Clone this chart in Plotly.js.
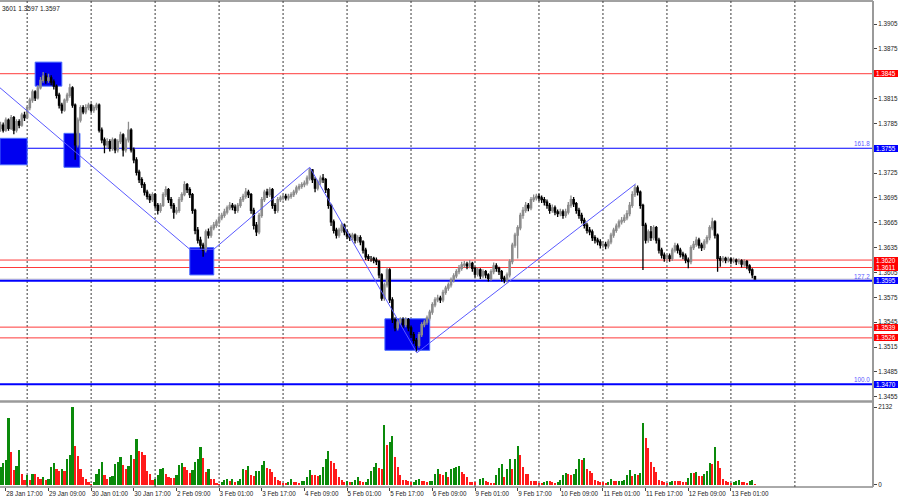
<!DOCTYPE html>
<html><head><meta charset="utf-8">
<script src="https://cdn.plot.ly/plotly-3.0.1.min.js"></script>
<style>html,body{margin:0;padding:0;background:#fff}#chart{width:900px;height:500px}</style>
</head><body><div id="chart"></div>
<script>
// Prices stored as 1.3xxx -> 4-digit pips (3783 = 1.3783)
const opens = [
3779,3783,3777,3789,3779,3792,3777,3787,3783,3795,
3792,3804,3813,3823,3816,3828,3837,3842,3837,3840,
3835,3830,3819,3807,3801,3813,3819,3828,3807,3759,
3789,3804,3799,3804,3807,3801,3804,3807,3777,3765,
3759,3763,3755,3765,3753,3763,3771,3753,3765,3777,
3753,3741,3726,3717,3711,3702,3697,3693,3699,3686,
3680,3686,3699,3705,3693,3686,3678,3680,3693,3699,
3711,3705,3699,3680,3656,3644,3638,3632,3654,3650,
3659,3662,3666,3671,3674,3678,3683,3686,3684,3680,
3686,3693,3697,3702,3699,3680,3662,3654,3674,3693,
3702,3699,3705,3686,3680,3693,3695,3697,3695,3697,
3699,3702,3707,3709,3711,3713,3719,3729,3717,3707,
3714,3719,3717,3705,3686,3666,3656,3650,3656,3662,
3654,3649,3647,3650,3644,3647,3642,3632,3624,3622,
3622,3620,3618,3602,3574,3590,3608,3572,3548,3538,
3545,3548,3542,3548,3538,3530,3523,3517,3530,3542,
3545,3550,3557,3566,3572,3574,3572,3581,3586,3590,
3596,3601,3606,3610,3614,3615,3613,3616,3610,3603,
3608,3601,3606,3602,3598,3606,3613,3610,3606,3598,
3596,3602,3618,3638,3650,3659,3674,3680,3686,3683,
3693,3695,3697,3695,3693,3690,3686,3680,3683,3678,
3676,3678,3674,3678,3686,3693,3688,3680,3674,3668,
3662,3656,3654,3647,3644,3642,3638,3639,3637,3642,
3650,3656,3661,3666,3668,3671,3676,3686,3699,3707,
3702,3686,3662,3644,3654,3647,3659,3644,3632,3626,
3622,3625,3622,3632,3637,3632,3627,3625,3620,3618,
3635,3639,3644,3638,3635,3642,3647,3659,3666,3650,
3622,3620,3622,3620,3621,3619,3620,3618,3619,3615,
3618,3613,3608,3600];
const closes = [
3783,3777,3789,3779,3792,3777,3787,3783,3795,3792,
3804,3813,3823,3816,3828,3837,3842,3837,3840,3835,
3830,3819,3807,3801,3813,3819,3828,3807,3759,3789,
3804,3799,3804,3807,3801,3804,3807,3777,3765,3759,
3763,3755,3765,3753,3763,3771,3753,3765,3777,3753,
3741,3726,3717,3711,3702,3697,3693,3699,3686,3680,
3686,3699,3705,3693,3686,3678,3680,3693,3699,3711,
3705,3699,3680,3656,3644,3638,3632,3654,3650,3659,
3662,3666,3671,3674,3678,3683,3686,3684,3680,3686,
3693,3697,3702,3699,3680,3662,3654,3674,3693,3702,
3699,3705,3686,3680,3693,3695,3697,3695,3697,3699,
3702,3707,3709,3711,3713,3719,3729,3717,3707,3714,
3719,3717,3705,3686,3666,3656,3650,3656,3662,3654,
3649,3647,3650,3644,3647,3642,3632,3624,3622,3622,
3620,3618,3602,3574,3590,3608,3572,3548,3538,3545,
3548,3542,3548,3538,3530,3523,3517,3530,3542,3545,
3550,3557,3566,3572,3574,3572,3581,3586,3590,3596,
3601,3606,3610,3614,3615,3613,3616,3610,3603,3608,
3601,3606,3602,3598,3606,3613,3610,3606,3598,3596,
3602,3618,3638,3650,3659,3674,3680,3686,3683,3693,
3695,3697,3695,3693,3690,3686,3680,3683,3678,3676,
3678,3674,3678,3686,3693,3688,3680,3674,3668,3662,
3656,3654,3647,3644,3642,3638,3639,3637,3642,3650,
3656,3661,3666,3668,3671,3676,3686,3699,3707,3702,
3686,3662,3644,3654,3647,3659,3644,3632,3626,3622,
3625,3622,3632,3637,3632,3627,3625,3620,3618,3635,
3639,3644,3638,3635,3642,3647,3659,3666,3650,3622,
3620,3622,3620,3621,3619,3620,3618,3619,3615,3618,
3613,3608,3602,3597];
const highs = [
3787,3786,3792,3791,3795,3794,3790,3790,3798,3799,
3806,3816,3826,3825,3831,3841,3847,3846,3845,3843,
3838,3832,3822,3810,3815,3822,3833,3830,3809,3792,
3807,3807,3808,3810,3809,3807,3810,3809,3780,3768,
3767,3766,3768,3767,3766,3775,3773,3768,3787,3779,
3756,3744,3729,3720,3714,3705,3700,3702,3701,3689,
3689,3702,3709,3707,3696,3689,3684,3696,3702,3715,
3713,3708,3701,3682,3660,3648,3641,3657,3658,3662,
3666,3669,3674,3677,3682,3686,3690,3689,3687,3689,
3696,3700,3707,3705,3701,3683,3666,3677,3696,3705,
3706,3708,3707,3689,3696,3698,3700,3700,3700,3702,
3705,3710,3712,3714,3716,3722,3731,3730,3720,3717,
3722,3724,3719,3707,3688,3669,3659,3659,3665,3664,
3657,3652,3653,3652,3650,3650,3644,3635,3627,3625,
3624,3623,3620,3604,3593,3611,3610,3575,3551,3548,
3551,3551,3551,3550,3541,3533,3526,3533,3545,3548,
3553,3560,3569,3575,3578,3577,3584,3589,3593,3599,
3604,3609,3614,3618,3619,3618,3620,3618,3612,3611,
3610,3609,3608,3604,3609,3617,3616,3612,3608,3601,
3605,3621,3641,3653,3662,3677,3684,3690,3689,3696,
3699,3700,3700,3698,3696,3693,3689,3687,3686,3681,
3682,3681,3682,3690,3698,3696,3690,3683,3677,3671,
3665,3660,3657,3650,3647,3645,3643,3642,3645,3653,
3659,3664,3669,3672,3675,3680,3690,3703,3711,3710,
3704,3688,3665,3657,3661,3662,3661,3647,3635,3629,
3628,3628,3635,3641,3640,3635,3630,3628,3623,3638,
3643,3648,3647,3641,3645,3650,3662,3671,3668,3652,
3625,3625,3624,3624,3623,3623,3622,3622,3621,3621,
3620,3615,3610,3601];
const lows = [
3775,3774,3775,3776,3777,3772,3774,3779,3781,3788,
3790,3801,3810,3812,3814,3826,3834,3833,3834,3831,
3826,3815,3803,3797,3799,3810,3816,3804,3741,3756,
3786,3796,3796,3801,3798,3798,3801,3774,3761,3749,
3755,3751,3752,3749,3750,3760,3745,3750,3762,3750,
3737,3722,3713,3707,3698,3693,3689,3690,3682,3675,
3677,3684,3696,3689,3682,3670,3675,3677,3690,3697,
3701,3695,3676,3651,3640,3633,3624,3629,3646,3647,
3656,3659,3663,3668,3671,3675,3680,3680,3676,3677,
3683,3690,3694,3695,3676,3657,3649,3651,3671,3690,
3695,3696,3682,3676,3677,3690,3692,3692,3692,3694,
3696,3699,3704,3706,3708,3710,3716,3713,3702,3704,
3711,3713,3701,3682,3661,3652,3646,3647,3653,3650,
3645,3643,3644,3640,3641,3638,3628,3620,3619,3618,
3616,3614,3598,3571,3571,3587,3568,3544,3534,3535,
3542,3538,3539,3534,3526,3519,3509,3514,3527,3539,
3542,3547,3554,3563,3569,3568,3569,3578,3583,3587,
3593,3598,3603,3607,3611,3609,3610,3606,3599,3600,
3597,3598,3598,3594,3595,3603,3606,3602,3594,3592,
3593,3599,3615,3635,3622,3656,3670,3677,3679,3680,
3690,3692,3691,3689,3686,3682,3676,3677,3674,3672,
3673,3670,3671,3675,3683,3684,3676,3670,3664,3658,
3652,3650,3643,3640,3638,3634,3634,3633,3634,3639,
3647,3653,3658,3663,3665,3668,3673,3683,3696,3698,
3682,3608,3640,3641,3643,3644,3640,3628,3622,3618,
3619,3618,3619,3629,3628,3623,3621,3616,3610,3615,
3632,3636,3634,3631,3632,3639,3644,3656,3646,3606,
3612,3617,3616,3617,3615,3616,3614,3615,3611,3612,
3609,3604,3598,3597];
const volumes = [
485,595,686,1830,915,412,522,961,293,137,
275,137,293,290,210,156,210,137,174,485,
595,430,393,430,384,705,833,2132,1071,796,
430,229,156,92,27,73,302,448,631,265,
156,210,256,576,641,759,540,430,522,814,
705,1254,933,897,814,375,293,137,174,275,
430,467,302,229,192,190,275,540,604,485,
412,339,412,631,723,1043,732,366,430,156,
150,64,27,82,137,156,101,174,82,119,
156,448,412,522,265,247,384,393,540,650,
467,430,366,210,137,101,64,60,92,156,
92,82,64,101,110,229,412,284,275,256,
265,485,705,942,668,595,430,210,137,92,
110,73,92,137,210,119,82,92,174,393,
485,595,458,450,1638,1089,1162,1327,759,503,
275,137,130,119,82,92,137,156,119,101,
82,101,119,302,448,302,265,357,229,
430,458,485,522,366,302,229,82,80,78,
9,156,192,101,82,64,60,275,458,576,
229,448,705,430,723,1071,833,503,302,295,
119,110,101,64,46,82,119,101,95,64,
82,137,265,320,302,275,302,448,723,686,
741,448,375,339,137,119,92,82,46,92,
174,119,101,105,119,137,265,412,247,302,
284,339,1693,1290,1016,631,503,366,137,101,
82,46,82,119,115,101,98,95,82,192,
320,315,357,247,240,302,393,595,576,1052,
659,458,156,119,82,46,82,119,137,82,
78,64,110,137,27];

// time axis labels (bar index of each label)
const timeLabels = ["28 Jan 17:00","29 Jan 09:00","30 Jan 01:00","30 Jan 17:00","2 Feb 09:00","3 Feb 01:00","3 Feb 17:00","4 Feb 09:00","5 Feb 01:00","5 Feb 17:00","6 Feb 09:00","9 Feb 01:00","9 Feb 17:00","10 Feb 09:00","11 Feb 01:00","11 Feb 17:00","12 Feb 09:00","13 Feb 01:00"];
const timeLabelIdx = [2,18,34,50,66,82,98,114,130,146,162,178,194,210,226,242,258,274];
const gridIdx = [10,34,58,82,106,130,154,178,202,226,250,274,298];

// plain scale ticks (1.3845 and 1.3755 are shown by the level boxes)
const priceTicks = [3905,3875,3815,3785,3725,3695,3665,3635,3605,3575,3545,3515,3485,3455];
const redLevels = [3845,3620,3611,3539,3526];
const blueLevels = [3755,3595,3470];
const fibLevels = [3755,3595,3470];
const fibNames = ["161.8","127.2","100.0"];
const bidPrice = 3597;
const volTicks = [0,2132];

// blue zones: [startIdx, endIdx, topPrice, bottomPrice]
const zones = [[-0.2,10,3767,3735],[13,23,3859,3830],[23.8,29.8,3773,3732],[71,80,3635,3602],[144.2,161,3549,3511]];
// zigzag pivots: [idx, price]
const zigzag = [[-0.2,3828],[71,3633],[80,3633],[116,3732],[156.2,3508],[238.3,3712]];

const P = v => 1 + v/10000;
const idx = closes.map((_, i) => i);
const volColors = volumes.map((v, i) => (i === 0 || v > volumes[i-1]) ? '#0a8a0a' : '#ff1a1a');

const fontF = 'Liberation Sans, Arial, sans-serif';
const traces = [
  {type:'candlestick', x:idx, open:opens.map(P), high:highs.map(P), low:lows.map(P), close:closes.map(P),
   xaxis:'x', yaxis:'y', whiskerwidth:0, hoverinfo:'skip',
   increasing:{line:{color:'#8c8c8c', width:1.3}, fillcolor:'#b0b0b0'},
   decreasing:{line:{color:'#000000', width:1.3}, fillcolor:'#000000'}},
  {type:'scatter', mode:'lines', x:zigzag.map(p=>p[0]), y:zigzag.map(p=>P(p[1])), xaxis:'x', yaxis:'y',
   line:{color:'#5a5aff', width:1}, hoverinfo:'skip'},
  {type:'bar', x:idx, y:volumes, xaxis:'x', yaxis:'y2', width:0.8,
   marker:{color:volColors, line:{width:0}}, hoverinfo:'skip'}
];

const shapes = [];
zones.forEach(z => shapes.push({type:'rect', xref:'x', yref:'y', x0:z[0], x1:z[1], y0:P(z[3]), y1:P(z[2]),
  fillcolor:'#0000f0', line:{color:'#4a6cff', width:1}, layer:'below'}));
gridIdx.forEach(g => shapes.push({type:'line', xref:'x', yref:'paper', x0:g, x1:g, y0:0, y1:1,
  line:{color:'#3a3a3a', width:1, dash:'2px,2px'}, layer:'below'}));
shapes.push({type:'line', xref:'paper', yref:'y', x0:0, x1:1, y0:P(bidPrice), y1:P(bidPrice), line:{color:'#c8c8c8', width:1}, layer:'below'});
redLevels.forEach(l => shapes.push({type:'line', xref:'paper', yref:'y', x0:0, x1:1, y0:P(l), y1:P(l),
  line:{color:'#ff3a3a', width:1}, layer:'below'}));
blueLevels.forEach((l,k) => shapes.push({type:'line', xref:'paper', yref:'y', x0:0, x1:1, y0:P(l), y1:P(l),
  line:{color:'#0000ff', width: k===0 ? 1.2 : 2}, layer:'below'}));
// frame
shapes.push({type:'line', xref:'paper', yref:'paper', x0:0, x1:1, y0:1, y1:1, line:{color:'#444', width:1}});
shapes.push({type:'line', xref:'paper', yref:'paper', x0:0, x1:1, y0:0.1759, y1:0.1759, line:{color:'#9a9a9a', width:2.5}});
shapes.push({type:'line', xref:'paper', yref:'paper', x0:0, x1:1, y0:0, y1:0, line:{color:'#555', width:1}});
shapes.push({type:'line', xref:'paper', yref:'paper', x0:1, x1:1, y0:0, y1:1, line:{color:'#9a9a9a', width:2}});

const annotations = [];
annotations.push({xref:'paper', yref:'paper', x:0, y:1, xanchor:'left', yanchor:'top', yshift:-2, showarrow:false,
  text:'3601 1.3597 1.3597', font:{family:fontF, size:6.5, color:'#222'}});
redLevels.forEach(l => annotations.push({xref:'paper', yref:'y', x:1, y:P(l), xanchor:'left', xshift:1, showarrow:false,
  text:P(l).toFixed(4), bgcolor:'#ff0000', font:{family:fontF, size:6.3, color:'#fff'}, width:24, height:7, borderpad:0, borderwidth:0, align:'center'}));
blueLevels.forEach(l => annotations.push({xref:'paper', yref:'y', x:1, y:P(l), xanchor:'left', xshift:1, showarrow:false,
  text:P(l).toFixed(4), bgcolor:'#0000ff', font:{family:fontF, size:6.3, color:'#fff'}, width:24, height:7, borderpad:0, borderwidth:0, align:'center'}));
fibLevels.forEach((l,k) => annotations.push({xref:'paper', yref:'y', x:1, y:P(l), xanchor:'right', yanchor:'bottom', xshift:-1, yshift:-1, showarrow:false,
  text:fibNames[k], font:{family:fontF, size:6.3, color:'#5a5aff'}}));

const layout = {
  width:900, height:500, margin:{l:0, r:27, t:1, b:13}, showlegend:false,
  paper_bgcolor:'#fff', plot_bgcolor:'#fff', bargap:0,
  xaxis:{range:[-0.19,327.3], anchor:'y2', tickvals:timeLabelIdx, ticktext:timeLabels, tickangle:0, ticks:'outside', ticklen:3,
    tickcolor:'#444', ticklabelposition:'outside right', tickfont:{family:fontF, size:6.3, color:'#222'},
    showgrid:false, zeroline:false, showline:false, rangeslider:{visible:false}, fixedrange:true},
  yaxis:{domain:[0.179,1], range:[1.34510,1.39328], side:'right', anchor:'x', tickvals:priceTicks.map(P), tickformat:'.4f',
    ticks:'outside', ticklen:3, tickcolor:'#444', tickfont:{family:fontF, size:6.3, color:'#222'},
    showgrid:false, zeroline:false, showline:false, fixedrange:true},
  yaxis2:{domain:[0,0.1728], range:[-55,2241], side:'right', anchor:'x', tickvals:volTicks, ticktext:volTicks.map(String),
    ticks:'outside', ticklen:3, tickcolor:'#444', tickfont:{family:fontF, size:6.3, color:'#222'},
    showgrid:false, zeroline:false, showline:false, fixedrange:true},
  shapes:shapes, annotations:annotations
};
Plotly.newPlot('chart', traces, layout, {staticPlot:true, displayModeBar:false});
</script></body></html>
